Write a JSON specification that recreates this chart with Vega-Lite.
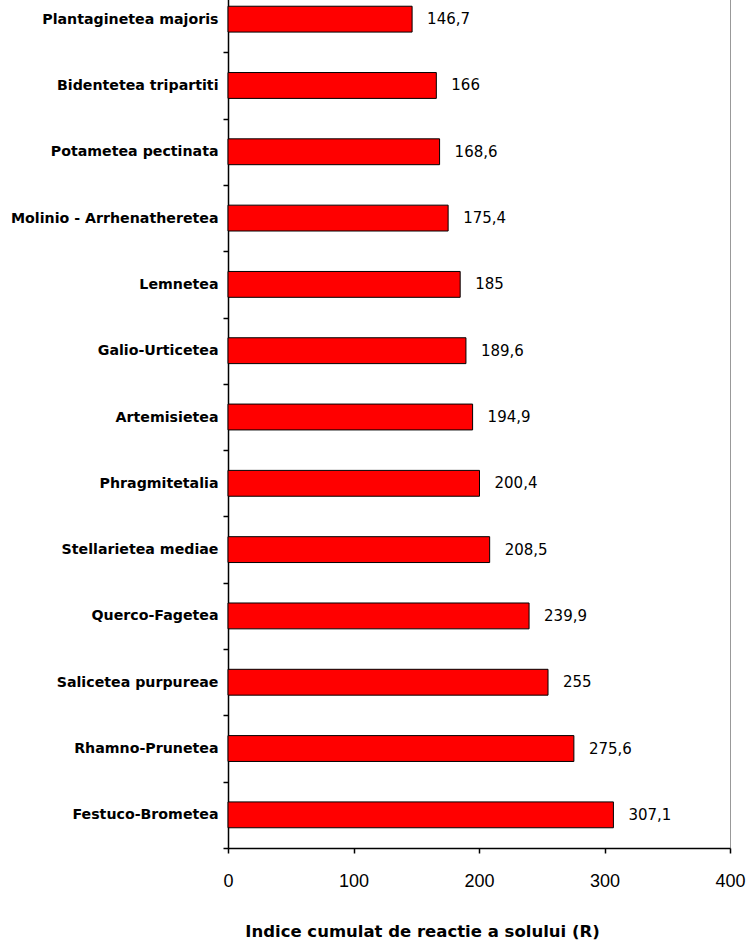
{
  "$schema": "https://vega.github.io/schema/vega-lite/v6.json",
  "autosize": {"type": "none"},
  "padding": {"left": 228, "top": -14, "right": 19, "bottom": 95},
  "width": 502,
  "height": 862,
  "background": "white",
  "config": {
    "view": {"stroke": "#999999", "strokeWidth": 1},
    "font": "Liberation Sans"
  },
  "data": {
    "values": [
      {"clasa": "Plantaginetea majoris", "R": 146.7, "label": "146,7"},
      {"clasa": "Bidentetea tripartiti", "R": 166, "label": "166"},
      {"clasa": "Potametea pectinata", "R": 168.6, "label": "168,6"},
      {"clasa": "Molinio - Arrhenatheretea", "R": 175.4, "label": "175,4"},
      {"clasa": "Lemnetea", "R": 185, "label": "185"},
      {"clasa": "Galio-Urticetea", "R": 189.6, "label": "189,6"},
      {"clasa": "Artemisietea", "R": 194.9, "label": "194,9"},
      {"clasa": "Phragmitetalia", "R": 200.4, "label": "200,4"},
      {"clasa": "Stellarietea mediae", "R": 208.5, "label": "208,5"},
      {"clasa": "Querco-Fagetea", "R": 239.9, "label": "239,9"},
      {"clasa": "Salicetea purpureae", "R": 255, "label": "255"},
      {"clasa": "Rhamno-Prunetea", "R": 275.6, "label": "275,6"},
      {"clasa": "Festuco-Brometea", "R": 307.1, "label": "307,1"}
    ]
  },
  "encoding": {
    "y": {
      "field": "clasa",
      "type": "nominal",
      "sort": null,
      "scale": {"paddingInner": 0, "paddingOuter": 0},
      "axis": {
        "title": null,
        "tickBand": "extent",
        "grid": false,
        "domainColor": "black",
        "domainWidth": 1.5,
        "tickColor": "black",
        "tickWidth": 1.5,
        "tickSize": 5,
        "labelPadding": 5,
        "labelFont": "DejaVu Sans",
        "labelFontWeight": "bold",
        "labelFontSize": 14.2,
        "labelColor": "black",
        "labelLimit": 300
      }
    }
  },
  "layer": [
    {
      "mark": {"type": "bar", "color": "#FF0000", "stroke": "black", "strokeWidth": 1, "height": {"band": 0.39}},
      "encoding": {
        "x": {
          "field": "R",
          "type": "quantitative",
          "scale": {"domain": [0, 400], "nice": false},
          "axis": {
            "title": "Indice cumulat de reactie a solului (R)",
            "values": [0, 100, 200, 300, 400],
            "grid": false,
            "labelFlush": false,
            "domainColor": "black",
            "domainWidth": 1.5,
            "tickColor": "black",
            "tickWidth": 1.5,
            "tickSize": 5,
            "labelFont": "Liberation Sans",
            "labelFontSize": 18,
            "labelColor": "black",
            "labelPadding": 19,
            "titleFont": "DejaVu Sans",
            "titleFontSize": 16.5,
            "titleFontWeight": "bold",
            "titleColor": "black",
            "titlePadding": 33,
            "titleX": 194,
            "titleAlign": "center"
          }
        }
      }
    },
    {
      "mark": {"type": "text", "align": "left", "baseline": "middle", "dx": 15, "fontSize": 15, "font": "DejaVu Sans", "color": "black"},
      "encoding": {
        "x": {"field": "R", "type": "quantitative"},
        "text": {"field": "label"}
      }
    }
  ]
}
